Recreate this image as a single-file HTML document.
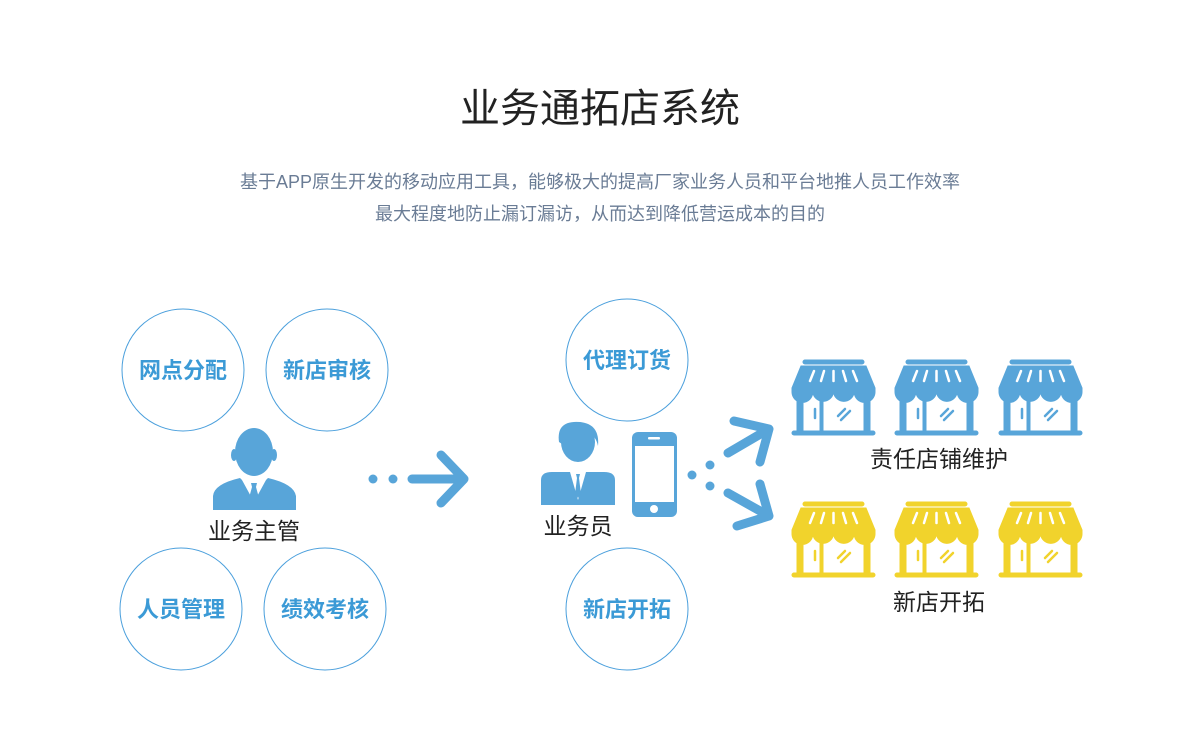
<!DOCTYPE html>
<html><head><meta charset="utf-8"><style>
body{margin:0;width:1200px;height:754px;background:#fff;position:relative;overflow:hidden;font-family:"Liberation Sans","Noto Sans CJK SC",sans-serif}
</style></head><body>
<svg width="1200" height="754" style="position:absolute;left:0;top:0" font-family="Liberation Sans, Noto Sans CJK SC, sans-serif">
<defs>
<g id="store">
<rect x="11" y="0" width="61" height="4" rx="2"/>
<path d="M9,6 H74 L83,28 V32 H0 V28 Z"/>
<path d="M0,32 A10.4,10.4 0 0 0 20.8,32 A10.4,10.4 0 0 0 41.5,32 A10.4,10.4 0 0 0 62.2,32 A10.4,10.4 0 0 0 83,32 Z"/>
<rect x="5" y="32" width="6" height="40"/><rect x="72" y="32" width="6" height="40"/><rect x="28" y="40" width="3" height="32"/>
<rect x="0" y="71" width="83" height="4" rx="2"/>
<g stroke="#fff" stroke-width="2.5" stroke-linecap="round">
<line x1="22" y1="11" x2="18" y2="21"/><line x1="32" y1="11" x2="29" y2="21"/><line x1="41.5" y1="11" x2="41.5" y2="21"/><line x1="51" y1="11" x2="54" y2="21"/><line x1="61" y1="11" x2="65" y2="21"/>
</g>
<g stroke-width="2.5" stroke-linecap="round" class="s">
<line x1="23" y1="49" x2="23" y2="58"/><line x1="46" y1="56" x2="53" y2="49"/><line x1="49" y1="60" x2="58" y2="51"/>
</g>
</g>
</defs>
<style>.b .s{stroke:#58a5d9}.y .s{stroke:#f1d32c}</style>
<g fill="#58a5d9" class="b"><g class="s"><use href="#store" x="792" y="360"/><use href="#store" x="895" y="360"/><use href="#store" x="999" y="360"/></g></g>
<g fill="#f1d32c" class="y"><g class="s"><use href="#store" x="792" y="502"/><use href="#store" x="895" y="502"/><use href="#store" x="999" y="502"/></g></g>

<g fill="none" stroke="#4a9fdc" stroke-width="1">
<circle cx="183" cy="370" r="61"/><circle cx="327" cy="370" r="61"/>
<circle cx="181" cy="609" r="61"/><circle cx="325" cy="609" r="61"/>
<circle cx="627" cy="360" r="61"/><circle cx="627" cy="609" r="61"/>
</g>
<g fill="#3b9ad6" font-size="22" font-weight="bold" text-anchor="middle">
<text x="183" y="378">网点分配</text><text x="327" y="378">新店审核</text>
<text x="181" y="617">人员管理</text><text x="325" y="617">绩效考核</text>
<text x="627" y="368">代理订货</text><text x="627" y="617">新店开拓</text>
</g>

<!-- person 1 -->
<g fill="#58a5d9">
<ellipse cx="254" cy="452" rx="19" ry="24"/>
<ellipse cx="234" cy="455" rx="3" ry="6"/><ellipse cx="274" cy="455" rx="3" ry="6"/>
<path d="M213,510 V496 Q214,484 240,478 L254,492 L268,478 Q294,484 296,496 V510 Z"/>
</g>
<path d="M242,480 L254,502 L266,480 L260,478 L254,484 L248,478 Z" fill="#fff"/>
<path d="M251,483 H257 L256,487 L259,498 L254,503 L249,498 L252,487 Z" fill="#58a5d9"/>

<!-- person 2 -->
<g fill="#58a5d9">
<ellipse cx="578" cy="442" rx="17" ry="20"/>
<path d="M559,442 Q556,420 580,422 Q600,424 598,446 Q596,436 588,432 Q576,440 562,444 Z"/>
<path d="M541,505 V480 Q541,472 552,472 H604 Q615,472 615,480 V505 Z"/>
</g>
<path d="M570,472 L578,500 L586,472 Z" fill="#fff"/>
<path d="M576,474 H580 L579,478 L581,494 L578,498 L575,494 L577,478 Z" fill="#58a5d9"/>

<!-- phone -->
<rect x="632" y="432" width="45" height="85" rx="6" fill="#58a5d9"/>
<rect x="635" y="446" width="39" height="56" fill="#fff"/>
<rect x="648" y="437" width="12" height="2.5" rx="1" fill="#fff"/>
<circle cx="654" cy="509" r="4" fill="#fff"/>

<!-- arrows -->
<g fill="#58a5d9"><circle cx="373" cy="479" r="4.5"/><circle cx="393" cy="479" r="4.5"/>
<circle cx="692" cy="475" r="4.5"/><circle cx="710" cy="465" r="4.5"/><circle cx="710" cy="486" r="4.5"/></g>
<g stroke="#58a5d9" stroke-width="9" stroke-linecap="round" stroke-linejoin="round" fill="none">
<path d="M412,479 H462 M441,455 L464,479 L441,503"/>
<path d="M728,453 L769,429 M734,421 L769,429 L760,462"/>
<path d="M728,493 L769,516 M760,484 L769,516 L737,526"/>
</g>

<g font-size="23" fill="#222" text-anchor="middle">
<text x="254" y="539">业务主管</text><text x="578" y="534">业务员</text>
<text x="939" y="467">责任店铺维护</text><text x="939" y="610">新店开拓</text>
</g>
<text x="600" y="122" font-size="40" fill="#222" text-anchor="middle">业务通拓店系统</text>
<g font-size="18" fill="#6a7c95" text-anchor="middle">
<text x="600" y="188">基于APP原生开发的移动应用工具，能够极大的提高厂家业务人员和平台地推人员工作效率</text>
<text x="600" y="220">最大程度地防止漏订漏访，从而达到降低营运成本的目的</text>
</g>
</svg>
</body></html>
